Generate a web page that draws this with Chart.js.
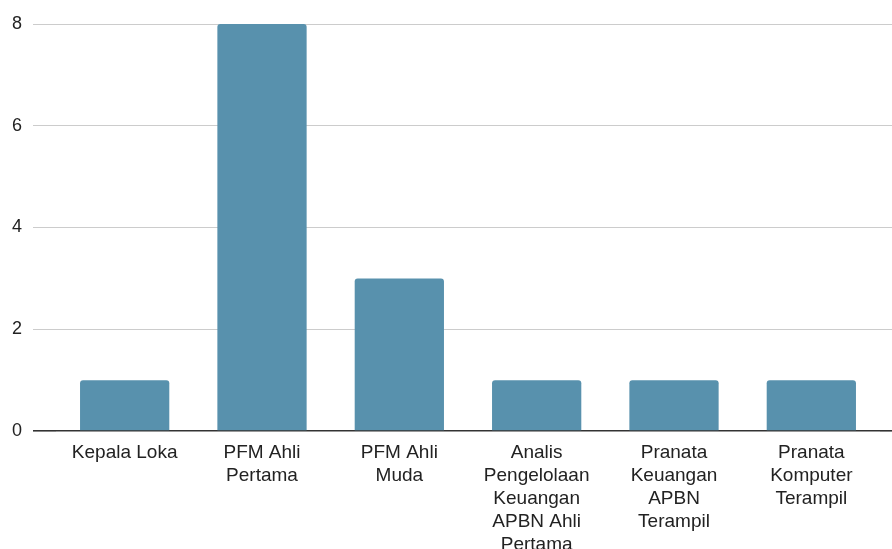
<!DOCTYPE html>
<html>
<head>
<meta charset="utf-8">
<script src="https://cdn.jsdelivr.net/npm/chart.js@4"></script>
<style>
  html, body { margin: 0; padding: 0; background: #fff; }
  #wrap { width: 892px; height: 549px; }
</style>
</head>
<body>
<div id="wrap"><canvas id="chart"></canvas></div>
<script>
// categories (already split over lines like the picture)
const categories = [
  ["Kepala Loka"],
  ["PFM Ahli", "Pertama"],
  ["PFM Ahli", "Muda"],
  ["Analis", "Pengelolaan", "Keuangan", "APBN Ahli", "Pertama"],
  ["Pranata", "Keuangan", "APBN", "Terampil"],
  ["Pranata", "Komputer", "Terampil"]
]
const counts = [1, 8, 3, 1, 1, 1]
const yTicks = [0, 2, 4, 6, 8]

const barColor = "#5891ad"
const gridColor = (c) => c.tick && c.tick.value === 0 ? "#333333" : "#cccccc"
const gridWidth = (c) => c.tick && c.tick.value === 0 ? 1.6 : 1

const ctx = document.getElementById("chart")
const chart = new Chart(ctx, {
  type: "bar",
  data: {
    labels: categories,
    datasets: [{
      data: counts,
      backgroundColor: barColor,
      borderRadius: 3,
      borderSkipped: "start",
      categoryPercentage: 1,
      barPercentage: 0.65
    }]
  },
  options: {
    responsive: true,
    maintainAspectRatio: false,
    animation: false,
    layout: { padding: { top: 24, left: 0, right: 0, bottom: 0 } },
    plugins: { legend: { display: false }, tooltip: { enabled: false } },
    scales: {
      x: {
        afterFit: (s) => { s.height = 118 },
        grid: { display: false, drawTicks: false },
        border: { display: false },
        ticks: {
          color: "#222",
          padding: 10,
          maxRotation: 0,
          autoSkip: false,
          font: { family: "Liberation Sans, Arial", size: 19, lineHeight: 1.21 }
        }
      },
      y: {
        min: 0,
        max: 8,
        afterBuildTicks: (s) => { s.ticks = yTicks.map(v => ({ value: v })) },
        afterFit: (s) => { s.width = 56 },
        border: { display: false },
        grid: { color: gridColor, lineWidth: gridWidth, drawTicks: true, tickLength: 23 },
        ticks: {
          color: "#222",
          padding: 11,
          font: { family: "Liberation Sans, Arial", size: 18 }
        }
      },
      y2: {
        position: "right",
        min: 0,
        max: 8,
        afterBuildTicks: (s) => { s.ticks = yTicks.map(v => ({ value: v })) },
        border: { display: false },
        grid: { color: gridColor, lineWidth: gridWidth, drawOnChartArea: false, drawTicks: true, tickLength: 12 },
        ticks: { display: false }
      }
    }
  }
})
</script>
</body>
</html>
